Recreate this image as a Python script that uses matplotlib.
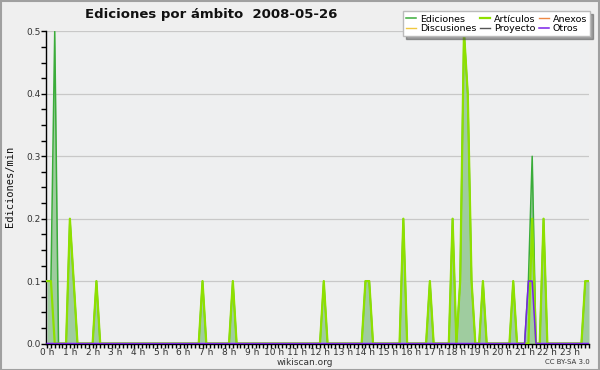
import matplotlib.pyplot as plt
import numpy as np

# 10-minute buckets, only the non-zero ones (edits/min)
ed_times = ["00:00", "00:10", "00:20", "01:00", "01:10", "02:10", "06:50", "08:10",
            "12:10", "14:00", "14:10", "15:40", "16:50", "17:50", "18:10", "18:20",
            "18:30", "18:40", "19:10", "20:30", "21:10", "21:20", "21:50", "23:40", "23:50"]
ed_vals = [0.1, 0.1, 0.5, 0.2, 0.1, 0.1, 0.1, 0.1,
           0.1, 0.1, 0.1, 0.2, 0.1, 0.2, 0.1, 0.5,
           0.4, 0.1, 0.1, 0.1, 0.1, 0.3, 0.2, 0.1, 0.1]

art_times = ["00:00", "00:10", "01:00", "01:10", "02:10", "06:50", "08:10",
             "12:10", "14:00", "14:10", "15:40", "16:50", "17:50", "18:10", "18:20",
             "18:30", "18:40", "19:10", "20:30", "21:20", "21:50", "23:40", "23:50"]
art_vals = [0.1, 0.1, 0.2, 0.1, 0.1, 0.1, 0.1,
            0.1, 0.1, 0.1, 0.2, 0.1, 0.2, 0.1, 0.5,
            0.4, 0.1, 0.1, 0.1, 0.2, 0.2, 0.1, 0.1]

otros_times = ["21:10", "21:20"]
otros_vals = [0.1, 0.1]

hour_labels = [f"{h} h" for h in range(24)]

minutes = np.arange(0, 24 * 60, 10)


def to_series(times, vals):
    s = np.zeros(len(minutes))
    for t, v in zip(times, vals):
        hh, mm = t.split(":")
        s[(int(hh) * 60 + int(mm)) // 10] = v
    return s


ediciones = to_series(ed_times, ed_vals)
articulos = to_series(art_times, art_vals)
otros = to_series(otros_times, otros_vals)
zeros = np.zeros(len(minutes))

fig = plt.figure(figsize=(6, 3.7), dpi=100, facecolor="#efefef")
ax = fig.add_axes([0.0767, 0.0716, 0.905, 0.8433])
ax.set_facecolor("#eeeff0")

ax.fill_between(minutes, ediciones, color="#9fcc9f", lw=0, zorder=2)
h_ed, = ax.plot(minutes, ediciones, color="#3aac3a", lw=1.1, zorder=3, label="Ediciones")
h_art, = ax.plot(minutes, articulos, color="#8ee000", lw=1.6, zorder=4, label="Artículos")
h_an, = ax.plot(minutes, zeros, color="#ee8844", lw=1, zorder=1, label="Anexos")
h_dis, = ax.plot(minutes, zeros, color="#f0c840", lw=1, zorder=1, label="Discusiones")
h_pro, = ax.plot(minutes, zeros, color="#555555", lw=1, zorder=1, label="Proyecto")
h_ot, = ax.plot(minutes, otros, color="#7a22e8", lw=1.1, zorder=5, label="Otros")

ax.set_xlim(-3, 1423)
ax.set_ylim(0, 0.5)
ax.set_xticks(np.arange(0, 24 * 60, 60))
ax.set_xticklabels(hour_labels)
ax.set_xticks(minutes, minor=True)
ax.set_yticks([0.0, 0.1, 0.2, 0.3, 0.4, 0.5])
ax.set_yticklabels(["0.0", "0.1", "0.2", "0.3", "0.4", "0.5"])
ax.set_yticks(np.arange(0, 0.51, 0.025), minor=True)
ax.tick_params(axis="both", which="both", direction="out", length=3.5, width=1,
               labelsize=6.5, labelcolor="#333333", pad=0.5)
ax.tick_params(axis="x", which="both", length=3)
ax.grid(axis="y", color="#c8c8c8", lw=0.9)
ax.set_axisbelow(True)
for s in ["top", "right"]:
    ax.spines[s].set_visible(False)
ax.spines["left"].set_linewidth(1)
ax.spines["bottom"].set_linewidth(1)

fig.text(0.016, 0.495, "Ediciones/min", fontsize=7.5, family="DejaVu Sans Mono",
         rotation=90, ha="center", va="center", color="#111111")

fig.text(0.142, 0.962, "Ediciones por ámbito  2008-05-26", fontsize=9.5,
         fontweight="bold", ha="left", va="center", color="#111111")
fig.text(0.508, 0.02, "wikiscan.org", fontsize=6.5, ha="center", va="center", color="#333333")
fig.text(0.983, 0.021, "CC BY-SA 3.0", fontsize=5, ha="right", va="center", color="#333333")

fig.legend(handles=[h_ed, h_dis, h_art, h_pro, h_an, h_ot], ncol=3,
           loc="upper right", bbox_to_anchor=(0.992, 0.982), fontsize=6.8,
           frameon=True, fancybox=False, shadow=True, framealpha=1,
           facecolor="white", edgecolor="#bbbbbb", handlelength=1.0,
           handletextpad=0.45, columnspacing=0.4, labelspacing=0.05, borderpad=0.35)

fig.patches.append(plt.Rectangle((0.001, 0.001), 0.997, 0.996, transform=fig.transFigure,
                                 fill=False, edgecolor="#a0a0a0", lw=1.5))

fig.savefig("out.png", dpi=100, facecolor=fig.get_facecolor())
